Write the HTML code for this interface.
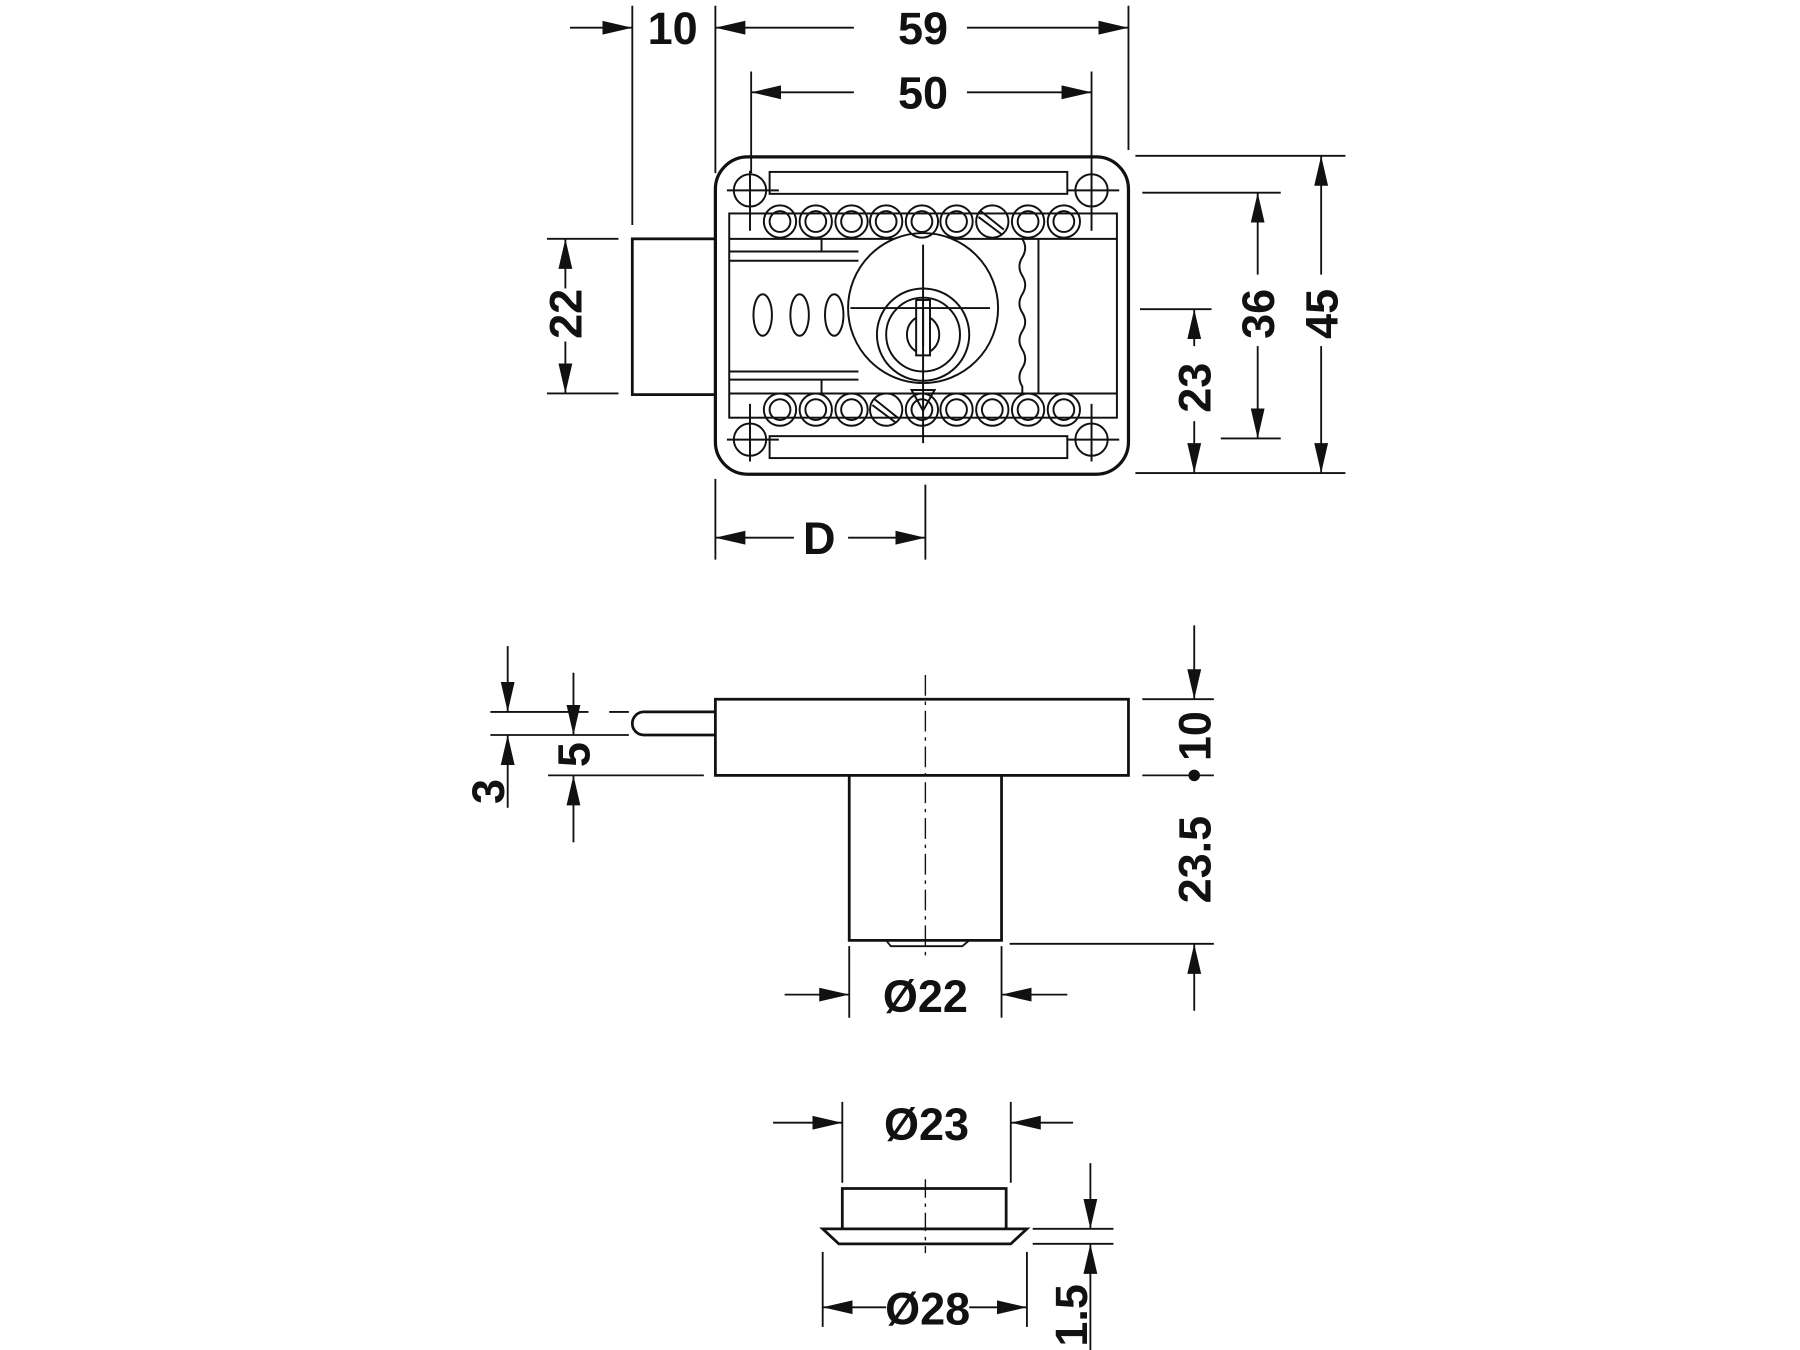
<!DOCTYPE html>
<html><head><meta charset="utf-8"><style>
html,body{margin:0;padding:0;background:#fff;width:1800px;height:1350px;overflow:hidden}
svg{display:block}
text{font-family:"Liberation Sans",sans-serif;font-weight:bold;fill:#111}
</style></head><body>
<svg width="1800" height="1350" viewBox="0 0 1560 1170" preserveAspectRatio="none" xmlns="http://www.w3.org/2000/svg">
<defs>
<marker id="a" markerUnits="userSpaceOnUse" markerWidth="26" markerHeight="14" refX="26" refY="7" orient="auto"><path d="M0,1 L26,7 L0,13 Z" fill="#111"/></marker>
</defs>
<g stroke="#111" fill="none" stroke-width="1.6">
<line x1="548" y1="5" x2="548" y2="195"/>
<line x1="620" y1="5" x2="620" y2="150"/>
<line x1="978" y1="5" x2="978" y2="130"/>
<line x1="494" y1="24" x2="548" y2="24" marker-end="url(#a)"/>
<line x1="740" y1="24" x2="620" y2="24" marker-end="url(#a)"/>
<line x1="838" y1="24" x2="978" y2="24" marker-end="url(#a)"/>
<line x1="651" y1="62" x2="651" y2="150"/>
<line x1="946" y1="62" x2="946" y2="150"/>
<line x1="740" y1="80" x2="651" y2="80" marker-end="url(#a)"/>
<line x1="838" y1="80" x2="946" y2="80" marker-end="url(#a)"/>
<line x1="474" y1="207" x2="536" y2="207"/>
<line x1="474" y1="341" x2="536" y2="341"/>
<line x1="490" y1="250" x2="490" y2="207" marker-end="url(#a)"/>
<line x1="490" y1="296" x2="490" y2="341" marker-end="url(#a)"/>
<line x1="984" y1="135" x2="1166" y2="135"/>
<line x1="984" y1="410" x2="1166" y2="410"/>
<line x1="990" y1="167" x2="1110" y2="167"/>
<line x1="1058" y1="380" x2="1110" y2="380"/>
<line x1="988" y1="268" x2="1050" y2="268"/>
<line x1="1145" y1="238" x2="1145" y2="135" marker-end="url(#a)"/>
<line x1="1145" y1="300" x2="1145" y2="410" marker-end="url(#a)"/>
<line x1="1090" y1="238" x2="1090" y2="167" marker-end="url(#a)"/>
<line x1="1090" y1="300" x2="1090" y2="380" marker-end="url(#a)"/>
<line x1="1035" y1="300" x2="1035" y2="268" marker-end="url(#a)"/>
<line x1="1035" y1="365" x2="1035" y2="410" marker-end="url(#a)"/>
<line x1="620" y1="415" x2="620" y2="485"/>
<line x1="802" y1="420" x2="802" y2="485"/>
<line x1="688" y1="466" x2="620" y2="466" marker-end="url(#a)"/>
<line x1="735" y1="466" x2="802" y2="466" marker-end="url(#a)"/>
</g>
<g stroke="#111" fill="none" stroke-width="1.7">
<rect x="620" y="136" width="358" height="275" rx="28" stroke-width="2.8"/>
<rect x="548" y="207" width="72" height="135" stroke-width="2.4"/>
<rect x="667" y="149" width="258" height="19"/>
<rect x="667" y="378" width="258" height="19"/>
<rect x="632" y="185" width="336" height="177"/>
<line x1="632" y1="207" x2="968" y2="207"/>
<line x1="632" y1="341" x2="968" y2="341"/>
<line x1="632" y1="218" x2="744" y2="218"/>
<line x1="632" y1="226" x2="744" y2="226"/>
<line x1="632" y1="322" x2="744" y2="322"/>
<line x1="632" y1="329" x2="744" y2="329"/>
<line x1="712" y1="207" x2="712" y2="218"/>
<line x1="712" y1="329" x2="712" y2="341"/>
<line x1="900" y1="207" x2="900" y2="341"/>
<path d="M886,207 q5,8 0,16 q-5,8 0,16 q5,8 0,16 q-5,8 0,16 q5,8 0,16 q-5,8 0,16 q5,8 0,16 q-5,8 0,16 l0,6"/>
<ellipse cx="661" cy="273" rx="8" ry="18"/>
<ellipse cx="693" cy="273" rx="8" ry="18"/>
<ellipse cx="723" cy="273" rx="8" ry="18"/>
<circle cx="800" cy="267" r="65" fill="#fff"/>
<circle cx="800" cy="290" r="40"/>
<circle cx="800" cy="290" r="32"/>
<ellipse cx="800" cy="290" rx="14" ry="16"/>
<rect x="794" y="260" width="12" height="48" fill="#fff"/>
<line x1="800" y1="266" x2="800" y2="300"/>
<path d="M790,338 L810,338 L800,356 Z"/>
<line x1="737" y1="267" x2="858" y2="267"/>
<line x1="800" y1="212" x2="800" y2="384"/>
<g>
<circle cx="650" cy="165" r="14"/><line x1="630" y1="165" x2="675" y2="165"/><line x1="650" y1="148" x2="650" y2="200"/>
<circle cx="946" cy="165" r="14"/><line x1="925" y1="165" x2="970" y2="165"/><line x1="946" y1="148" x2="946" y2="200"/>
<circle cx="650" cy="381" r="14"/><line x1="630" y1="381" x2="675" y2="381"/><line x1="650" y1="350" x2="650" y2="400"/>
<circle cx="946" cy="381" r="14"/><line x1="925" y1="381" x2="970" y2="381"/><line x1="946" y1="350" x2="946" y2="400"/>
</g>
<g>
<circle cx="676" cy="192" r="14"/><ellipse cx="676" cy="192" rx="9" ry="9"/>
<circle cx="707" cy="192" r="14"/><ellipse cx="707" cy="192" rx="9" ry="9"/>
<circle cx="738" cy="192" r="14"/><ellipse cx="738" cy="192" rx="9" ry="9"/>
<circle cx="768" cy="192" r="14"/><ellipse cx="768" cy="192" rx="9" ry="9"/>
<circle cx="799" cy="192" r="14"/><ellipse cx="799" cy="192" rx="9" ry="9"/>
<circle cx="829" cy="192" r="14"/><ellipse cx="829" cy="192" rx="9" ry="9"/>
<circle cx="860" cy="192" r="14"/><line x1="850" y1="183" x2="870" y2="199"/><line x1="848" y1="188" x2="868" y2="203"/>
<circle cx="891" cy="192" r="14"/><ellipse cx="891" cy="192" rx="9" ry="9"/>
<circle cx="922" cy="192" r="14"/><ellipse cx="922" cy="192" rx="9" ry="9"/>
</g>
<g>
<circle cx="676" cy="355" r="14"/><ellipse cx="676" cy="355" rx="9" ry="9"/>
<circle cx="707" cy="355" r="14"/><ellipse cx="707" cy="355" rx="9" ry="9"/>
<circle cx="738" cy="355" r="14"/><ellipse cx="738" cy="355" rx="9" ry="9"/>
<circle cx="768" cy="355" r="14"/><line x1="758" y1="346" x2="778" y2="362"/><line x1="756" y1="351" x2="776" y2="366"/>
<circle cx="799" cy="355" r="14"/><ellipse cx="799" cy="355" rx="9" ry="9"/>
<circle cx="829" cy="355" r="14"/><ellipse cx="829" cy="355" rx="9" ry="9"/>
<circle cx="860" cy="355" r="14"/><ellipse cx="860" cy="355" rx="9" ry="9"/>
<circle cx="891" cy="355" r="14"/><ellipse cx="891" cy="355" rx="9" ry="9"/>
<circle cx="922" cy="355" r="14"/><ellipse cx="922" cy="355" rx="9" ry="9"/>
</g>
</g>
<g stroke="#111" fill="none" stroke-width="1.6">
<line x1="425" y1="617" x2="510" y2="617"/>
<line x1="528" y1="617" x2="545" y2="617"/>
<line x1="425" y1="637" x2="545" y2="637"/>
<line x1="475" y1="672" x2="610" y2="672"/>
<line x1="440" y1="560" x2="440" y2="617" marker-end="url(#a)"/>
<line x1="440" y1="700" x2="440" y2="637" marker-end="url(#a)"/>
<line x1="497" y1="583" x2="497" y2="637" marker-end="url(#a)"/>
<line x1="497" y1="730" x2="497" y2="672" marker-end="url(#a)"/>
<line x1="990" y1="606" x2="1052" y2="606"/>
<line x1="990" y1="672" x2="1052" y2="672"/>
<line x1="875" y1="818" x2="1052" y2="818"/>
<line x1="1035" y1="542" x2="1035" y2="606" marker-end="url(#a)"/>
<line x1="1035" y1="876" x2="1035" y2="818" marker-end="url(#a)"/>
<line x1="736" y1="820" x2="736" y2="882"/>
<line x1="868" y1="820" x2="868" y2="882"/>
<line x1="680" y1="862" x2="736" y2="862" marker-end="url(#a)"/>
<line x1="925" y1="862" x2="868" y2="862" marker-end="url(#a)"/>
<line x1="802" y1="585" x2="802" y2="830" stroke-dasharray="18,5,3,5" stroke-width="1.2"/>
</g>
<g stroke="#111" fill="none" stroke-width="2.4">
<rect x="620" y="606" width="358" height="66"/>
<path d="M620,617 L558,617 A10,10 0 0 0 558,637 L620,637"/>
<path d="M736,672 L736,815 L868,815 L868,672"/>
<path d="M768,815 L772,820 L834,820 L840,815" stroke-width="1.6"/>
</g>
<g stroke="#111" fill="none" stroke-width="1.6">
<line x1="730" y1="955" x2="730" y2="1025"/>
<line x1="876" y1="955" x2="876" y2="1025"/>
<line x1="670" y1="973" x2="730" y2="973" marker-end="url(#a)"/>
<line x1="930" y1="973" x2="876" y2="973" marker-end="url(#a)"/>
<line x1="713" y1="1085" x2="713" y2="1150"/>
<line x1="890" y1="1085" x2="890" y2="1150"/>
<line x1="768" y1="1133" x2="713" y2="1133" marker-end="url(#a)"/>
<line x1="840" y1="1133" x2="890" y2="1133" marker-end="url(#a)"/>
<line x1="895" y1="1065" x2="965" y2="1065"/>
<line x1="895" y1="1078" x2="965" y2="1078"/>
<line x1="945" y1="1008" x2="945" y2="1065" marker-end="url(#a)"/>
<line x1="945" y1="1170" x2="945" y2="1078" marker-end="url(#a)"/>
<line x1="802" y1="1022" x2="802" y2="1086" stroke-dasharray="16,5,3,5" stroke-width="1.2"/>
</g>
<g stroke="#111" fill="none" stroke-width="2.4">
<path d="M730,1065 L730,1030 L872,1030 L872,1065"/>
<path d="M713,1065 L890,1065 L876,1078 L727,1078 Z"/>
</g>
<g font-size="39">
<text x="583" y="38" text-anchor="middle">10</text>
<text x="800" y="38" text-anchor="middle">59</text>
<text x="800" y="94" text-anchor="middle">50</text>
<text x="710" y="480" text-anchor="middle">D</text>
<text transform="translate(504,272) rotate(-90)" text-anchor="middle">22</text>
<text transform="translate(1159,272) rotate(-90)" text-anchor="middle">45</text>
<text transform="translate(1104,272) rotate(-90)" text-anchor="middle">36</text>
<text transform="translate(1049,336) rotate(-90)" text-anchor="middle">23</text>
<text transform="translate(437,686) rotate(-90)" text-anchor="middle">3</text>
<text transform="translate(511,654) rotate(-90)" text-anchor="middle">5</text>
<text transform="translate(1049,638) rotate(-90)" text-anchor="middle">10</text>
<text transform="translate(1049,745) rotate(-90)" text-anchor="middle">23.5</text>
<text x="802" y="877" text-anchor="middle">Ø22</text>
<text x="803" y="988" text-anchor="middle">Ø23</text>
<text x="804" y="1148" text-anchor="middle">Ø28</text>
<text transform="translate(942,1140) rotate(-90)" text-anchor="middle">1.5</text>
</g>
<circle cx="1035" cy="672" r="5" fill="#111"/>
</svg>
</body></html>
